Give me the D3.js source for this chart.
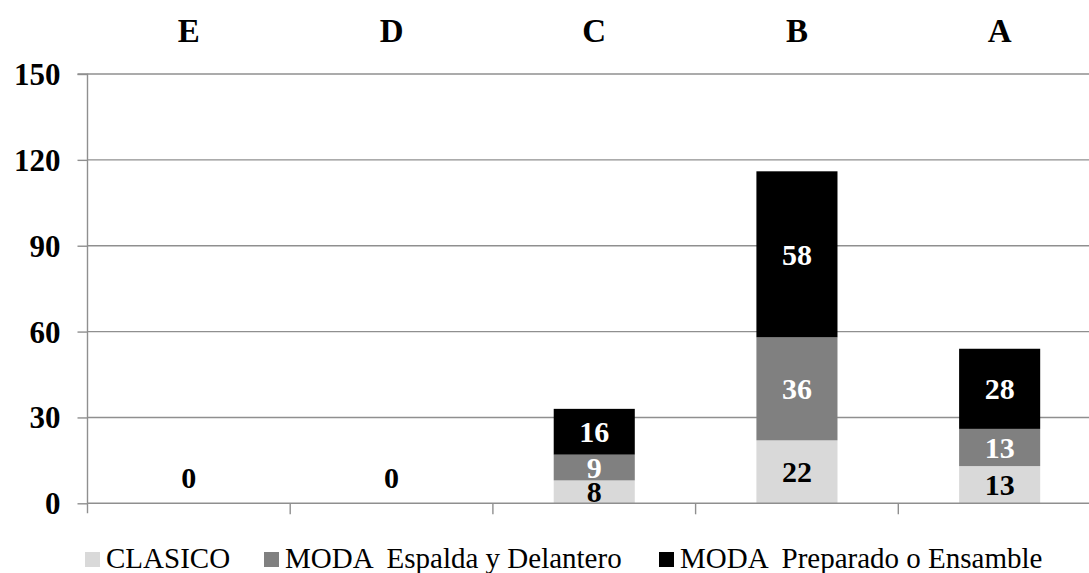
<!DOCTYPE html>
<html>
<head>
<meta charset="utf-8">
<script src="https://cdn.jsdelivr.net/npm/d3@7/dist/d3.min.js"></script>
<style>
  html, body { margin: 0; padding: 0; background: #fff; }
  svg { display: block; font-family: "Liberation Serif", "Times New Roman", serif; }
  .lg text { white-space: pre; }
</style>
</head>
<body>
<svg id="chart" width="1089" height="573"></svg>
<script>
// Categories (left to right) and stacked series values
const categories = ["E", "D", "C", "B", "A"];
const seriesNames = ["CLASICO", "MODA  Espalda y Delantero", "MODA  Preparado o Ensamble"];
const clasico   = [0, 0, 8, 22, 13];
const espalda   = [0, 0, 9, 36, 13];
const preparado = [0, 0, 16, 58, 28];
const yTicks = [0, 30, 60, 90, 120, 150];

const colors = ["#d9d9d9", "#808080", "#000000"];
const labelColors = ["#000000", "#ffffff", "#ffffff"];

const rows = categories.map((c, i) => ({
  cat: c,
  CLASICO: clasico[i],
  [seriesNames[1]]: espalda[i],
  [seriesNames[2]]: preparado[i]
}));

const svg = d3.select("#chart");
const plotLeft = 87.5, plotBottom = 503.3, plotTop = 74;

const x = d3.scaleBand().domain(categories).range([plotLeft, plotLeft + 5 * 202.7]).padding(0);
const y = d3.scaleLinear().domain([0, 150]).range([plotBottom, plotTop]);

const gridColor = "#8f8f8f";

// Horizontal gridlines
svg.append("g").selectAll("line").data(yTicks.filter(t => t > 0)).join("line")
  .attr("x1", plotLeft).attr("x2", 1089)
  .attr("y1", d => y(d)).attr("y2", d => y(d))
  .attr("stroke", gridColor).attr("stroke-width", 1.4);

// Stacked bars
const stack = d3.stack().keys(seriesNames);
const layers = stack(rows);
const bw = x.bandwidth() * 0.4;

const gBars = svg.append("g");
layers.forEach((layer, si) => {
  gBars.append("g").selectAll("rect").data(layer.filter(d => d[1] - d[0] > 0)).join("rect")
    .attr("x", d => x(d.data.cat) + (x.bandwidth() - bw) / 2)
    .attr("width", bw)
    .attr("y", d => y(d[1]))
    .attr("height", d => y(d[0]) - y(d[1]))
    .attr("fill", colors[si]);
});

// Y axis
const yAxis = d3.axisLeft(y).tickValues(yTicks).tickSize(10).tickPadding(17);
const gy = svg.append("g").attr("transform", `translate(${plotLeft},0)`).call(yAxis);
gy.select(".domain").attr("stroke", gridColor).attr("stroke-width", 1.4)
  .attr("d", `M-10,${plotTop}H0V${plotBottom + 10}`);
gy.selectAll(".tick line").attr("stroke", gridColor).attr("stroke-width", 1.4);
gy.selectAll(".tick text").attr("font-family", "Liberation Serif, serif")
  .attr("font-size", 31).attr("font-weight", "bold").attr("fill", "#000")
  .attr("dy", "0.34em");

// X axis baseline with ticks at category boundaries
const xAxis = d3.axisBottom(x).tickSize(0).tickFormat("");
const gx = svg.append("g").attr("transform", `translate(0,${plotBottom})`).call(xAxis);
gx.select(".domain").attr("stroke", gridColor).attr("stroke-width", 1.4)
  .attr("d", `M${plotLeft},0H1089`);
gx.selectAll(".tick").remove();
gx.selectAll("line.bound").data(categories.slice(1)).join("line")
  .attr("class", "bound")
  .attr("x1", d => x(d)).attr("x2", d => x(d))
  .attr("y1", 0).attr("y2", 11)
  .attr("stroke", gridColor).attr("stroke-width", 1.4);

// Category labels across the top
svg.append("g").selectAll("text").data(categories).join("text")
  .attr("x", d => x(d) + x.bandwidth() / 2)
  .attr("y", 42)
  .attr("text-anchor", "middle")
  .attr("font-size", 33).attr("font-weight", "bold")
  .text(d => d);

// Segment value labels
const gLab = svg.append("g");
layers.forEach((layer, si) => {
  gLab.append("g").selectAll("text").data(layer.filter(d => d[1] - d[0] > 0)).join("text")
    .attr("x", d => x(d.data.cat) + x.bandwidth() / 2)
    .attr("y", d => (y(d[0]) + y(d[1])) / 2)
    .attr("dy", "0.35em")
    .attr("text-anchor", "middle")
    .attr("font-size", 30).attr("font-weight", "bold")
    .attr("fill", labelColors[si])
    .text(d => d[1] - d[0]);
});

// Zero-total categories get a single value label above the baseline
gLab.append("g").selectAll("text").data(rows.filter((r, i) => clasico[i] + espalda[i] + preparado[i] === 0)).join("text")
  .attr("x", d => x(d.cat) + x.bandwidth() / 2)
  .attr("y", plotBottom - 26)
  .attr("dy", "0.35em")
  .attr("text-anchor", "middle")
  .attr("font-size", 30).attr("font-weight", "bold")
  .text(d => d.CLASICO);

// Legend
const legendX = [85, 264, 659];
const lg = svg.append("g").attr("class", "lg");
seriesNames.forEach((name, i) => {
  lg.append("rect").attr("x", legendX[i]).attr("y", 552).attr("width", 15).attr("height", 15)
    .attr("fill", colors[i]);
  lg.append("text").attr("x", legendX[i] + 21).attr("y", 568)
    .attr("font-size", 29).attr("fill", "#000")
    .text(name);
});
</script>
</body>
</html>
